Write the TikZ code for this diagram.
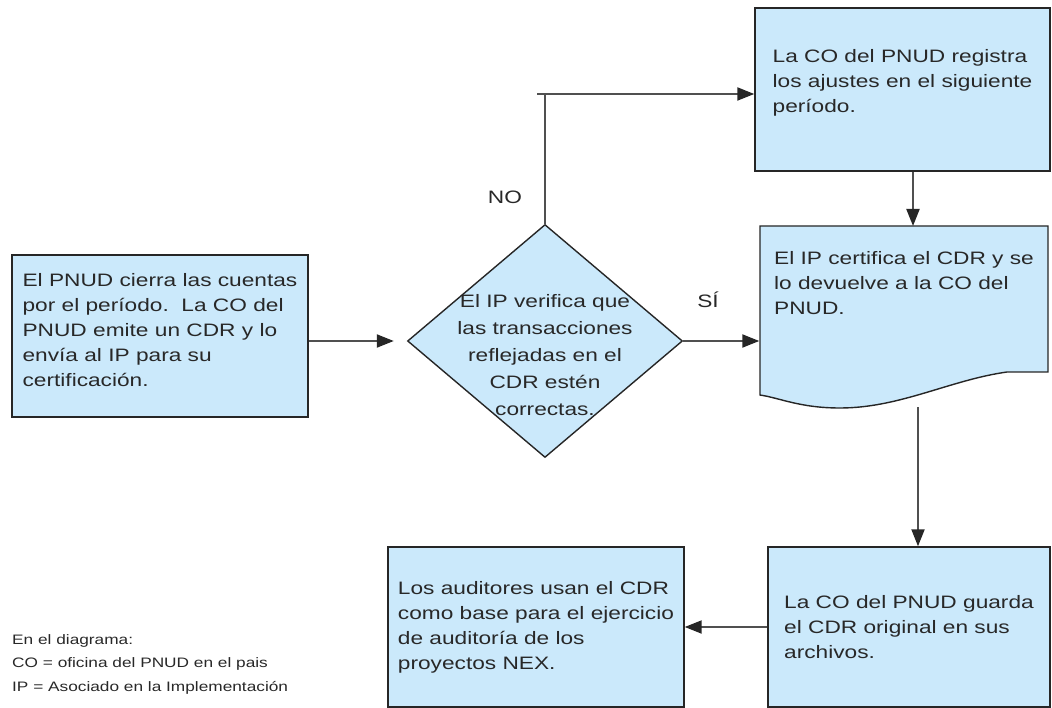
\documentclass[tikz,border=0pt]{standalone}
\usepackage{fontspec}
\setmainfont{Liberation Sans}[FakeStretch=1.26]
\usetikzlibrary{shapes.geometric,arrows.meta}
\definecolor{boxblue}{RGB}{203,233,251}
\definecolor{txtgray}{RGB}{40,40,40}
\definecolor{linegray}{RGB}{80,80,80}
\begin{document}
\begin{tikzpicture}[x=1pt,y=-1pt,
    every node/.style={text=txtgray},
    box/.style={draw=black!85, fill=boxblue, line width=1.4pt, shape=rectangle, align=left, inner sep=0pt, font=\fontsize{18}{25}\selectfont},
    boxtext/.style={align=left, inner sep=0pt, font=\fontsize{18}{25}\selectfont},
    decision/.style={draw=black!85, fill=boxblue, line width=1.4pt, shape=diamond, inner sep=0pt, minimum width=275pt, minimum height=233pt},
    conn/.style={draw=linegray, line width=2pt},
    arr/.style={conn, -{Triangle[length=17pt,width=13pt,color=black!85]}},
    lbl/.style={font=\fontsize{18}{22}\selectfont},
    legend/.style={align=left, inner sep=0pt, font=\fontsize{13.7}{23.5}\selectfont}
]
\useasboundingbox (0,0) rectangle (1052,708);
% --- Kaesten ---
\node[box, minimum width=296pt, minimum height=162pt] (close) at (160,336) {};
\node[boxtext] (closetxt) at ([yshift=6pt]close.center)
  {El PNUD cierra las cuentas\\ por el período.\ \ La CO del\\ PNUD emite un CDR y lo\\ envía al IP para su\\ certificación.};
\node[decision] (chk) at (545,341) {};
\node[align=center, inner sep=0pt, font=\fontsize{18}{27}\selectfont] (chktxt) at (545,355)
  {El IP verifica que\\ las transacciones\\ reflejadas en el\\ CDR estén\\ correctas.};
\node[box, minimum width=295pt, minimum height=163pt] (upd) at (902.5,89.5) {};
\node[boxtext] (updtxt) at ([yshift=7pt]upd.center)
  {La CO del PNUD registra\\ los ajustes en el siguiente\\ período.};
% --- Dokument mit Wellenkante ---
\draw[draw=black!85, fill=boxblue, line width=1.4pt] (760,226) -- (1048,226) -- (1048,372) -- (1007,372)
  .. controls (950,380) and (900,408) .. (840,408)
  .. controls (800,408) and (780,398) .. (760,395) -- cycle;
\node[box, draw=none, fill=none, anchor=north, minimum width=288pt, inner ysep=25pt] (cert) at (904,226)
  {El IP certifica el CDR y se\\ lo devuelve a la CO del\\ PNUD.};
\node[box, minimum width=282pt, minimum height=160pt] (keep) at (909,627)
  {La CO del PNUD guarda\\ el CDR original en sus\\ archivos.};
\node[box, minimum width=296pt, minimum height=160pt] (aud) at (536,627)
  {Los auditores usan el CDR\\ como base para el ejercicio\\ de auditoría de los\\ proyectos NEX.};
% --- Verbindungen ---
\draw[arr, shorten >=13pt] (close.east |- chk.west) -- (chk.west);
\coordinate (turn) at (545,94);
\draw[conn] (chk.north) -- (turn);
\draw[arr] ([xshift=-8pt]turn) -- (turn -| upd.west);  % NO-Zweig
\draw[arr] (chk.east) -- (chk.east -| cert.west);       % SI-Zweig
\draw[arr] ([xshift=10.5pt]upd.south) -- ([xshift=10.5pt]upd.south |- cert.north);
\coordinate (certout) at (918,407);
\draw[arr] (certout) -- (certout |- keep.north);
\draw[arr] (keep.west) -- (aud.east);
% --- Beschriftungen ---
\node[lbl] (no) at (505,197) {NO};
\node[lbl] (si) at (708,300) {SÍ};
\node[legend, anchor=west] (leg) at (12,664)
  {En el diagrama:\\ CO = oficina del PNUD en el pais\\ IP = Asociado en la Implementación};
\end{tikzpicture}
\end{document}
